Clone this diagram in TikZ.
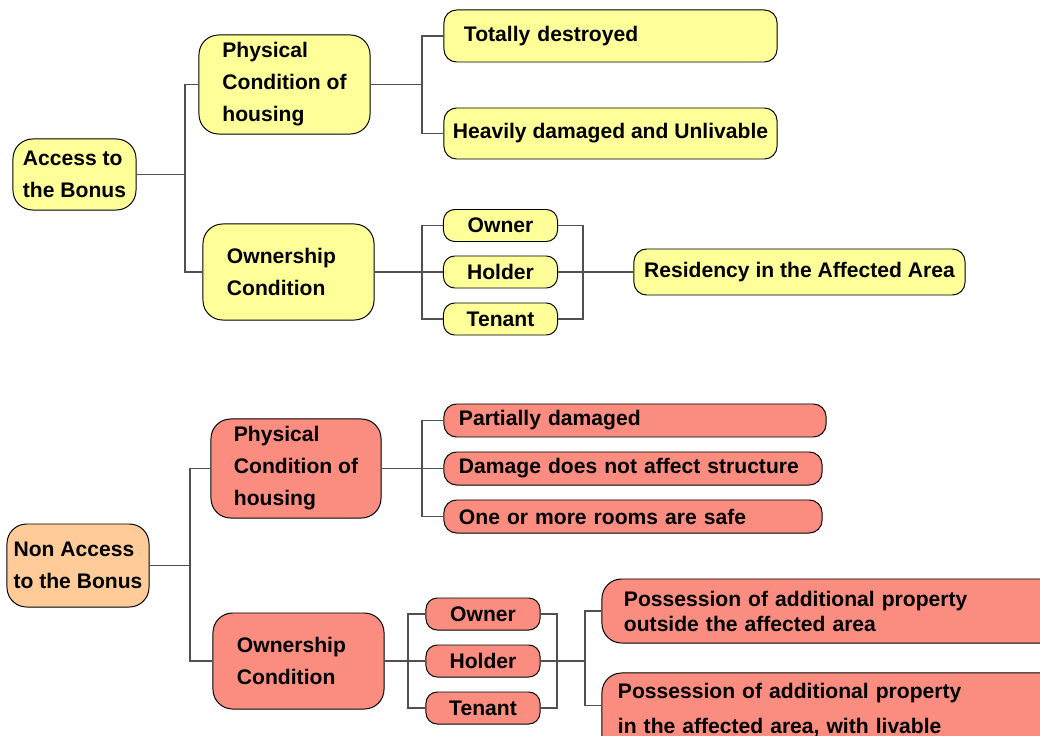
\documentclass[tikz,border=0pt]{standalone}
\usepackage{fontspec}
\setmainfont{Liberation Sans}
\usepackage{tikz}
\usetikzlibrary{positioning,calc}
\definecolor{bonusyellow}{RGB}{255,255,153}
\definecolor{bonusred}{RGB}{250,141,128}
\definecolor{bonusorange}{RGB}{255,204,153}
\definecolor{bonusline}{RGB}{80,80,80}

\begin{document}
\begin{tikzpicture}[
  x=0.025cm, y=-0.025cm,
  every node/.style={font=\fontsize{15}{22.7}\selectfont\bfseries},
  bigbox/.style={draw=black, line width=0.7pt, rounded corners=14pt, align=left,
                 inner sep=0pt, minimum width=4.275cm, minimum height=2.4cm},
  ownbox/.style={bigbox, text width=3.075cm, inner xsep=0.6cm},
  rowbox/.style={draw=black, line width=0.7pt, rounded corners=9pt, align=left,
                 inner ysep=0pt},
  pill/.style={draw=black, line width=0.7pt, rounded corners=8pt, inner sep=0pt,
               minimum width=2.85cm, minimum height=0.8cm},
  link/.style={draw=bonusline, line width=0.8pt}
]
  \useasboundingbox (0,0) rectangle (1040,736);
  \clip (0,0) rectangle (1040,736);

  % access to the bonus
  \node[bigbox, fill=bonusyellow, minimum width=3.075cm, minimum height=1.775cm] (acc) at (74.5,174.5) {Access to\\the Bonus};
  \node[bigbox, fill=bonusyellow, minimum height=2.475cm] (phys1) at (284.5,84.5) {Physical\\Condition of\\housing};
  \node[ownbox, fill=bonusyellow] (own1) at (288.5,272) {Ownership\\Condition};

  \node[rowbox, fill=bonusyellow, text width=7.325cm, inner xsep=0.5cm, minimum height=1.3cm] (tot) at (610.5,36) {Totally destroyed};
  \node[rowbox, fill=bonusyellow, inner xsep=0pt, minimum width=8.325cm, minimum height=1.275cm] (heavy) at (610.5,133.5) {Heavily damaged and Unlivable};

  \node[pill, fill=bonusyellow] (owner1)  at (500.5,225.5) {Owner};
  \node[pill, fill=bonusyellow] (holder1) at (500.5,272)   {Holder};
  \node[pill, fill=bonusyellow] (tenant1) at (500.5,319)   {Tenant};
  \node[rowbox, fill=bonusyellow, inner xsep=0pt, minimum width=8.275cm, minimum height=1.15cm] (res) at (799.5,272) {Residency in the Affected Area};

  \coordinate (j1) at (185,0);
  \coordinate (j2) at (422,0);
  \coordinate (j3) at (583,0);
  \draw[link] (acc.east) -- (acc.east -| j1);
  \draw[link] (phys1.west) -- (phys1.west -| j1) -- (own1.west -| j1) -- (own1.west);
  \draw[link] (phys1.east) -- (phys1.east -| j2);
  \draw[link] (tot.west) -- (tot.west -| j2) -- (heavy.west -| j2) -- (heavy.west);
  \draw[link] (own1.east) -- (holder1.west);
  \draw[link] (owner1.west) -- (owner1.west -| j2) -- (tenant1.west -| j2) -- (tenant1.west);
  \draw[link] (owner1.east) -- (owner1.east -| j3) -- (tenant1.east -| j3) -- (tenant1.east);
  \draw[link] (holder1.east) -- (res.west);

  % non access to the bonus
  \node[bigbox, fill=bonusorange, minimum width=3.55cm, minimum height=2.075cm] (nacc) at (78,565.5) {Non Access\\to the Bonus};
  \node[bigbox, fill=bonusred, minimum width=4.25cm, minimum height=2.475cm] (phys2) at (296,468.5) {Physical\\Condition of\\housing};
  \node[ownbox, fill=bonusred] (own2) at (298.5,661) {Ownership\\Condition};

  \node[rowbox, fill=bonusred, text width=8.8cm, inner xsep=0.375cm, minimum height=0.825cm] (part) at (635,420.5) {Partially damaged};
  \node[rowbox, fill=bonusred, text width=8.7cm, inner xsep=0.375cm, minimum height=0.825cm] (struct) at (633,468.5) {Damage does not affect structure};
  \node[rowbox, fill=bonusred, text width=8.7cm, inner xsep=0.375cm, minimum height=0.825cm] (rooms) at (633,516.5) {One or more rooms are safe};

  \node[pill, fill=bonusred] (owner2)  at (483,614) {Owner};
  \node[pill, fill=bonusred] (holder2) at (483,661) {Holder};
  \node[pill, fill=bonusred] (tenant2) at (483,708) {Tenant};

  \node[rowbox, fill=bonusred, rounded corners=14pt, text width=10.6cm, inner xsep=0.55cm, minimum height=1.6cm,
        font=\fontsize{15}{17.8}\selectfont\bfseries] (pos1) at (836,611) {Possession of additional property\\outside the affected area};
  \node[rowbox, fill=bonusred, rounded corners=14pt, text width=10.9cm, inner xsep=0.4cm, minimum height=2.65cm,
        font=\fontsize{15}{24.9}\selectfont\bfseries] (pos2) at (836,726) {Possession of additional property\\in the affected area, with livable\\\mbox{}};

  \coordinate (k1) at (190,0);
  \coordinate (k2) at (422,0);
  \coordinate (k3) at (408,0);
  \coordinate (k4) at (557,0);
  \coordinate (k5) at (585,661);
  \coordinate (pin) at ($(pos2.north west)+(0,33)$);
  \draw[link] (nacc.east) -- (nacc.east -| k1);
  \draw[link] (phys2.west) -- (phys2.west -| k1) -- (own2.west -| k1) -- (own2.west);
  \draw[link] (phys2.east) -- (struct.west);
  \draw[link] (part.west) -- (part.west -| k2) -- (rooms.west -| k2) -- (rooms.west);
  \draw[link] (own2.east) -- (holder2.west);
  \draw[link] (owner2.west) -- (owner2.west -| k3) -- (tenant2.west -| k3) -- (tenant2.west);
  \draw[link] (owner2.east) -- (owner2.east -| k4) -- (tenant2.east -| k4) -- (tenant2.east);
  \draw[link] (holder2.east) -- (k5);
  \draw[link] (pos1.west) -- (pos1.west -| k5) -- (pin -| k5) -- (pin);
\end{tikzpicture}
\end{document}
